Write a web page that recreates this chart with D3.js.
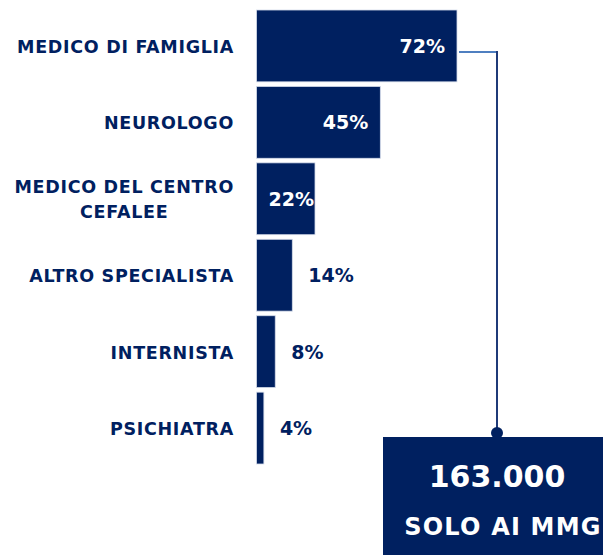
<!DOCTYPE html>
<html>
<head>
<meta charset="utf-8">
<script src="https://cdn.jsdelivr.net/npm/d3@7"></script>
<style>
  body { margin: 0; background: #fff; }
  svg { display: block; }
</style>
</head>
<body>
<div id="chart"></div>
<script>
// data
var categories = ["MEDICO DI FAMIGLIA", "NEUROLOGO", "MEDICO DEL CENTRO\nCEFALEE", "ALTRO SPECIALISTA", "INTERNISTA", "PSICHIATRA"];
var values = [72, 45, 22, 14, 8, 4];
var calloutValue = "163.000";
var calloutText = "SOLO AI MMG";

var width = 603, height = 555;
var navy = "#002060";
var font = "'DejaVu Sans', sans-serif";

var svg = d3.select("#chart")
  .append("svg")
    .attr("width", width)
    .attr("height", height);

// scales
var x = d3.scaleLinear()
  .domain([1.4, 72])
  .range([256.5, 457]);

var y = d3.scaleBand()
  .domain(categories)
  .range([10, 464])
  .paddingInner(0.06)
  .paddingOuter(0);

// bars
svg.append("g")
  .selectAll("rect")
  .data(values)
  .enter()
  .append("rect")
    .attr("x", x(1.4))
    .attr("y", function(d, i) { return y(categories[i]); })
    .attr("width", function(d) { return x(d) - x(1.4); })
    .attr("height", y.bandwidth())
    .attr("fill", navy)
    .attr("stroke", "#d5dcea")
    .attr("stroke-width", 0.8);

// category labels: block right aligned at 234, lines centred inside the block
var labelRight = 234;
svg.append("g")
  .selectAll("text")
  .data(categories)
  .enter()
  .append("text")
    .attr("font-family", font)
    .attr("font-weight", "bold")
    .attr("font-size", 17.5)
    .attr("letter-spacing", 0.7)
    .attr("fill", navy)
    .attr("text-anchor", "middle")
    .attr("y", function(d) { return y(d) + y.bandwidth() / 2; })
    .each(function(d) {
      var t = d3.select(this);
      var lines = d.split("\n");
      var spans = lines.map(function(l, j) {
        return t.append("tspan")
          .attr("dy", j == 0 ? (7 - (lines.length - 1) * 12.5) : 25)
          .text(l);
      });
      var maxW = d3.max(spans, function(s) { return s.node().getComputedTextLength(); });
      spans.forEach(function(s) { s.attr("x", labelRight - maxW / 2); });
    });

// value labels
svg.append("g")
  .selectAll("text")
  .data(values)
  .enter()
  .append("text")
    .attr("font-family", font)
    .attr("font-weight", "bold")
    .attr("font-size", 19)
    .attr("y", function(d, i) { return y(categories[i]) + y.bandwidth() / 2 + 7; })
    .text(function(d) { return d + "%"; })
    .each(function(d) {
      var t = d3.select(this);
      var w = this.getComputedTextLength();
      if (d >= 20) {
        // inside the bar, near the end
        t.attr("text-anchor", "end")
          .attr("fill", "#fff")
          .attr("x", Math.max(x(d) - 12, x(1.4) + 12 + w));
      } else {
        t.attr("text-anchor", "start")
          .attr("fill", navy)
          .attr("x", x(d) + 16);
      }
    });

// callout connector
var yLine = y(categories[0]) + y.bandwidth() / 2 + 6;
var xTurn = 497, yDot = 433;
svg.append("line")
  .attr("x1", x(values[0]) + 2).attr("x2", xTurn)
  .attr("y1", yLine).attr("y2", yLine)
  .attr("stroke", "#4f7fc0")
  .attr("stroke-width", 2);
svg.append("line")
  .attr("x1", xTurn).attr("x2", xTurn)
  .attr("y1", yLine - 1).attr("y2", yDot)
  .attr("stroke", "#1f3a78")
  .attr("stroke-width", 2);
svg.append("circle")
  .attr("cx", xTurn).attr("cy", yDot)
  .attr("r", 6)
  .attr("fill", navy);

// callout box
svg.append("rect")
  .attr("x", 383).attr("y", 437)
  .attr("width", 230).attr("height", 130)
  .attr("fill", navy);

svg.append("text")
  .attr("x", 497).attr("y", 487)
  .attr("text-anchor", "middle")
  .attr("font-family", font)
  .attr("font-weight", "bold")
  .attr("font-size", 30)
  .attr("fill", "#fff")
  .text(calloutValue);

svg.append("text")
  .attr("x", 503).attr("y", 535)
  .attr("text-anchor", "middle")
  .attr("font-family", font)
  .attr("font-weight", "bold")
  .attr("font-size", 24)
  .attr("letter-spacing", 1.2)
  .attr("fill", "#fff")
  .text(calloutText);
</script>
</body>
</html>
